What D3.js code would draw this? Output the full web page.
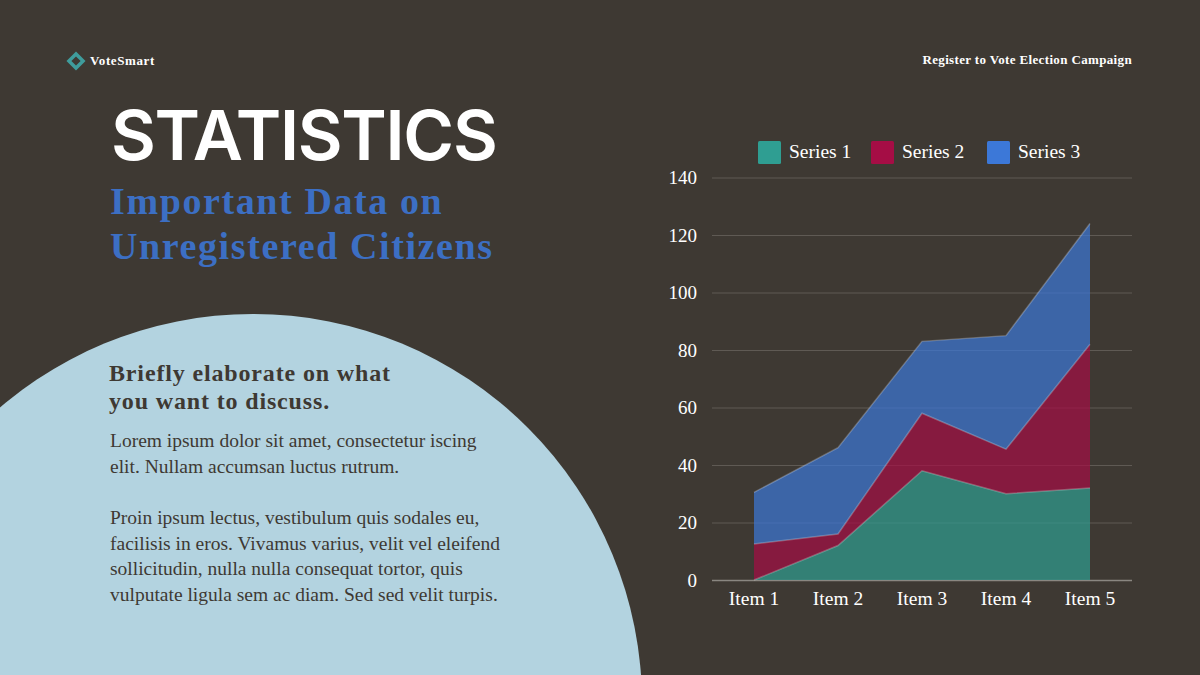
<!DOCTYPE html>
<html>
<head>
<meta charset="utf-8">
<script src="https://cdn.jsdelivr.net/npm/d3@7"></script>
<style>
  html, body { margin: 0; padding: 0; background: #3e3933; }
  svg { display: block; }
  text { font-family: "Liberation Serif", serif; }
</style>
</head>
<body>
<svg width="1200" height="675"></svg>
<script>
// chart data
const categories = ["Item 1", "Item 2", "Item 3", "Item 4", "Item 5"];
const seriesNames = ["Series 1", "Series 2", "Series 3"];
const series1 = [0, 12, 38, 30, 32];
const series2 = [12.5, 4, 20, 15.5, 50];
const series3 = [18, 30, 25, 39.5, 42];
const yTicks = [0, 20, 40, 60, 80, 100, 120, 140];
const colors = ["#2f9e92", "#a50d45", "#3c78d8"];

const bodyLines1 = ["Lorem ipsum dolor sit amet, consectetur iscing", "elit. Nullam accumsan luctus rutrum."];
const bodyLines2 = ["Proin ipsum lectus, vestibulum quis sodales eu,", "facilisis in eros. Vivamus varius, velit vel eleifend", "sollicitudin, nulla nulla consequat tortor, quis", "vulputate ligula sem ac diam. Sed sed velit turpis."];

const svg = d3.select("svg");

// big pale circle behind the text
svg.append("circle")
  .attr("cx", 253).attr("cy", 703).attr("r", 389)
  .attr("fill", "#b3d3e0");

// header
svg.append("rect")
  .attr("x", -5).attr("y", -5).attr("width", 10).attr("height", 10)
  .attr("transform", "translate(76,61) rotate(45)")
  .attr("fill", "none").attr("stroke", "#3f9c9c").attr("stroke-width", 3.5);
svg.append("text").text("VoteSmart")
  .attr("x", 90).attr("y", 65).attr("fill", "#fff")
  .attr("font-size", 13).attr("font-weight", 700).attr("letter-spacing", 0.6);
svg.append("text").text("Register to Vote Election Campaign")
  .attr("x", 1132).attr("y", 64).attr("text-anchor", "end").attr("fill", "#fff")
  .attr("font-size", 13).attr("font-weight", 700).attr("letter-spacing", 0.35);

// left column
svg.append("text").text("STATISTICS")
  .attr("x", 111).attr("y", 160).attr("fill", "#fff")
  .style("font-family", "Inter").attr("font-size", 69).attr("font-weight", 600)
  .attr("letter-spacing", -1.3);
[["Important Data on", 214], ["Unregistered Citizens", 259]].forEach(d => {
  svg.append("text").text(d[0])
    .attr("x", 110).attr("y", d[1]).attr("fill", "#3c6fc4")
    .attr("font-size", 38).attr("font-weight", 700).attr("letter-spacing", 1.6);
});
[["Briefly elaborate on what", 381], ["you want to discuss.", 409]].forEach(d => {
  svg.append("text").text(d[0])
    .attr("x", 109).attr("y", d[1]).attr("fill", "#3e3933")
    .attr("font-size", 24).attr("font-weight", 700).attr("letter-spacing", 0.85);
});
bodyLines1.forEach((t, i) => {
  svg.append("text").text(t)
    .attr("x", 110).attr("y", 447 + i * 26).attr("fill", "#3e3933").attr("font-size", 19.5);
});
bodyLines2.forEach((t, i) => {
  svg.append("text").text(t)
    .attr("x", 110).attr("y", 524 + i * 25.7).attr("fill", "#3e3933").attr("font-size", 19.5);
});

// chart
const x = d3.scaleBand().domain(categories).range([712, 1132]);
const y = d3.scaleLinear().domain([0, 140]).range([580, 177.5]);

const rows = categories.map((c, i) => ({
  item: c,
  [seriesNames[0]]: series1[i],
  [seriesNames[1]]: series2[i],
  [seriesNames[2]]: series3[i]
}));
const stacked = d3.stack().keys(seriesNames)(rows);

const gridG = svg.append("g")
  .attr("transform", "translate(712,0)")
  .call(d3.axisLeft(y).tickValues(yTicks).tickSize(-420).tickPadding(15).tickFormat(d3.format("d")));
gridG.select(".domain").remove();
gridG.selectAll(".tick line")
  .attr("stroke", d => d === 0 ? "#8a8781" : "#5f5a54")
  .attr("stroke-width", d => d === 0 ? 1.5 : 1);
gridG.selectAll(".tick text")
  .attr("fill", "#fff").attr("font-size", 19)
  .style("font-family", "Liberation Serif");

const xG = svg.append("g")
  .attr("transform", "translate(0,580)")
  .call(d3.axisBottom(x).tickSize(0).tickPadding(11));
xG.select(".domain").remove();
xG.selectAll(".tick text")
  .attr("fill", "#fff").attr("font-size", 19.5)
  .style("font-family", "Liberation Serif");

const px = d => x(d.data.item) + x.bandwidth() / 2;
const area = d3.area().x(px).y0(d => y(d[0])).y1(d => y(d[1]));
const topLine = d3.line().x(px).y(d => y(d[1]));

svg.append("g").selectAll("path")
  .data(stacked)
  .join("path")
  .attr("d", area)
  .attr("fill", (d, i) => colors[i])
  .attr("fill-opacity", 0.7);
svg.append("g").selectAll("path")
  .data(stacked)
  .join("path")
  .attr("d", topLine)
  .attr("fill", "none")
  .attr("stroke", "#fff")
  .attr("stroke-opacity", 0.25)
  .attr("stroke-width", 1.5);

// legend
const legendX = [758, 871, 987];
const legend = svg.append("g").selectAll("g")
  .data(seriesNames)
  .join("g")
  .attr("transform", (d, i) => `translate(${legendX[i]},141)`);
legend.append("rect")
  .attr("width", 23).attr("height", 23).attr("rx", 1.5)
  .attr("fill", (d, i) => colors[i]);
legend.append("text").text(d => d)
  .attr("x", 31).attr("y", 17).attr("fill", "#fff").attr("font-size", 19.5);
</script>
</body>
</html>
